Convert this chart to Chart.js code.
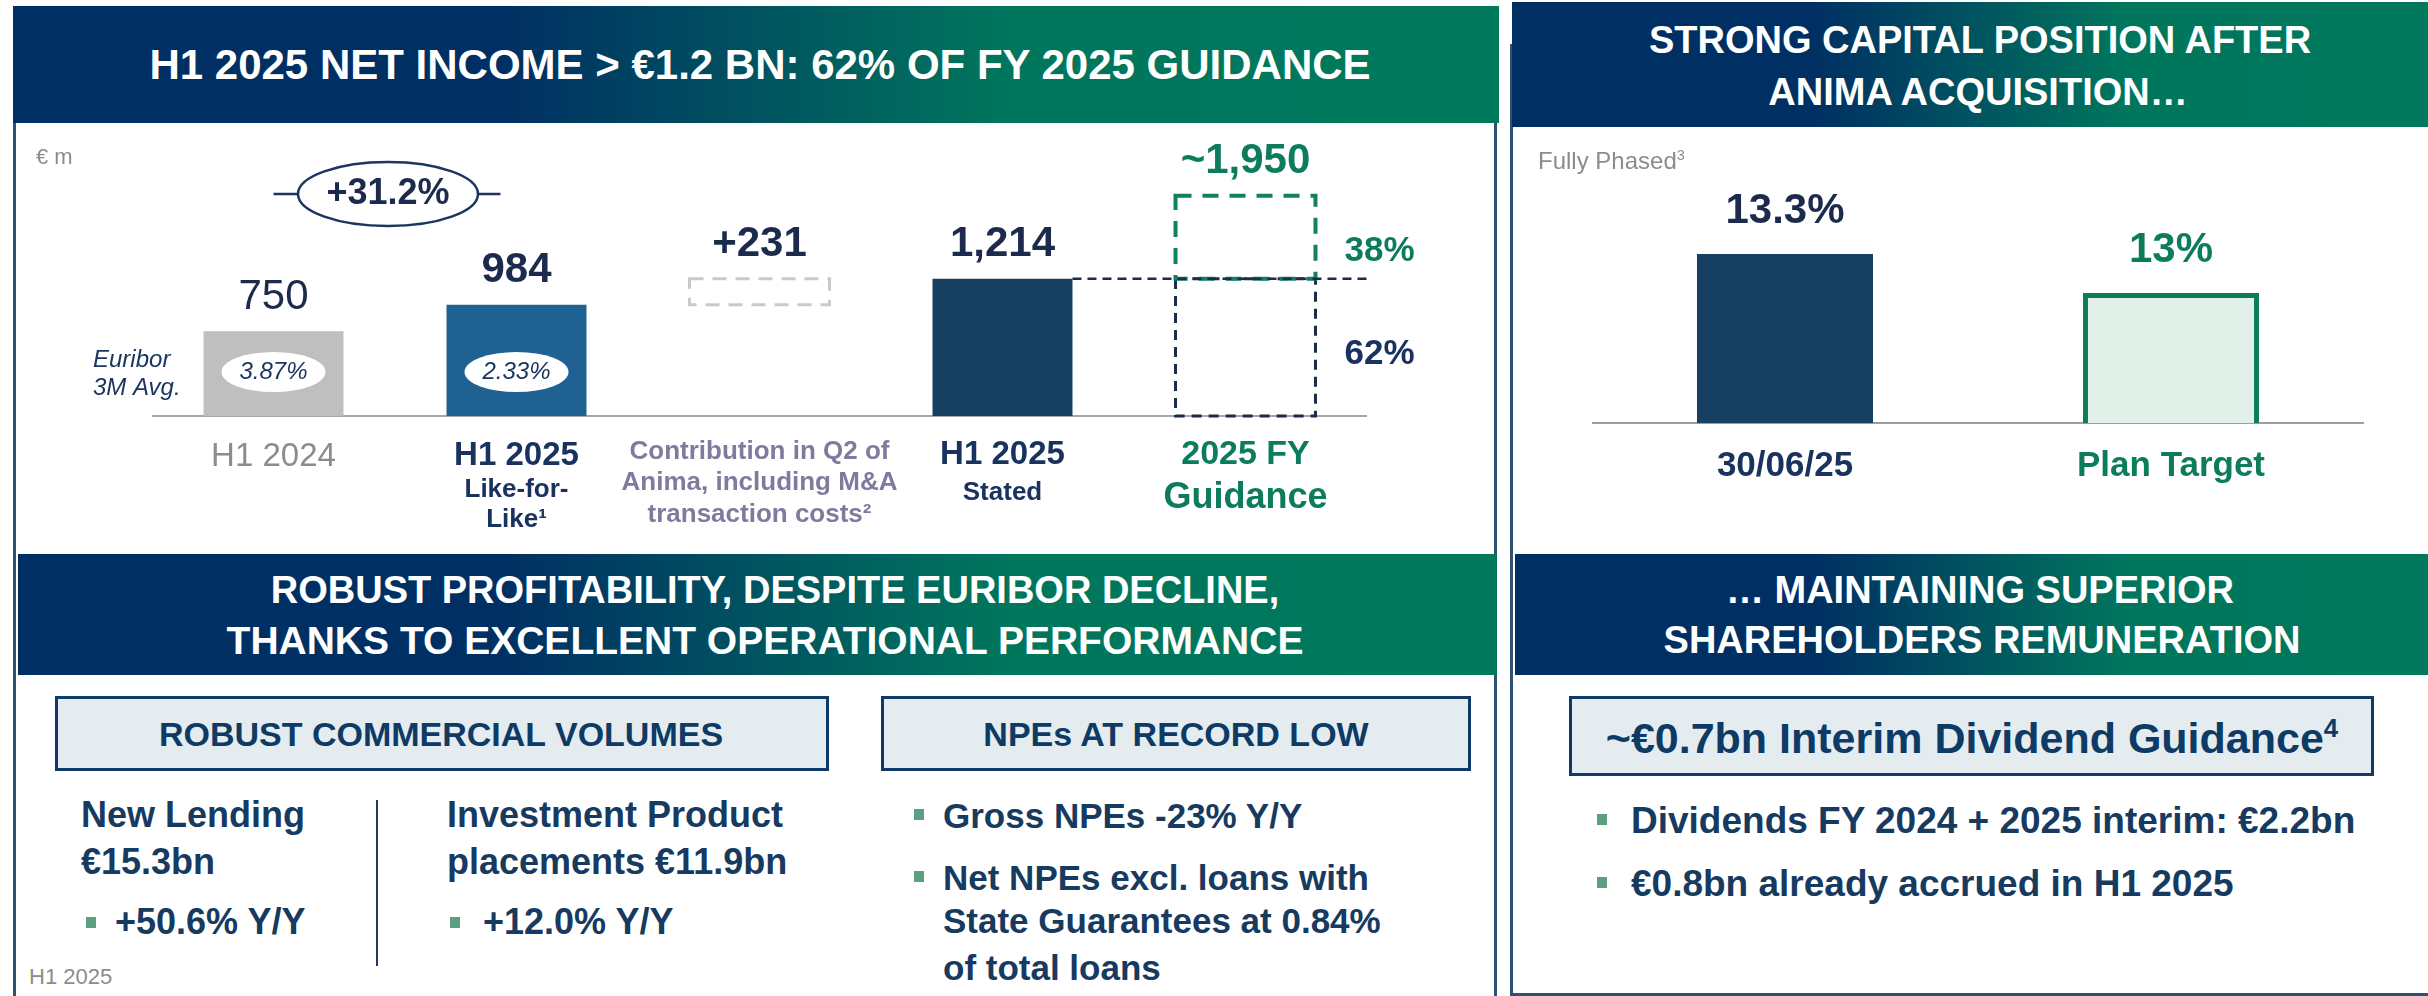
<!DOCTYPE html>
<html><head><meta charset="utf-8">
<script src="https://cdn.jsdelivr.net/npm/chart.js@4.4.1/dist/chart.umd.min.js"></script>
<style>
html,body{margin:0;padding:0;}
body{width:2428px;height:996px;position:relative;overflow:hidden;background:#fff;font-family:'Liberation Sans',Arial,sans-serif;}
.hdr{position:absolute;background:linear-gradient(90deg,#003063 0%,#003063 33%,#00765D 67%,#00795C 100%);}
.box{position:absolute;box-sizing:border-box;border:3px solid #0E3B69;background:#E4ECEF;}
.ln{position:absolute;background:#2F5273;}
.t{position:absolute;white-space:nowrap;line-height:1;}
.sq{position:absolute;width:10px;height:11px;background:#5B9E80;}
sup{font-size:0.6em;line-height:0;vertical-align:0.6em;}
canvas{position:absolute;}
</style></head><body>
<div class="ln" style="left:13px;top:44px;width:3px;height:952px"></div>
<div class="ln" style="left:1494px;top:44px;width:3px;height:952px"></div>
<div class="ln" style="left:1510px;top:44px;width:3px;height:952px"></div>
<div class="ln" style="left:1510px;top:993px;width:918px;height:3px"></div>
<div class="hdr" style="left:13px;top:6px;width:1486px;height:117px"></div>
<div class="hdr" style="left:1512px;top:2px;width:916px;height:125px"></div>
<div class="hdr" style="left:18px;top:554px;width:1479px;height:121px"></div>
<div class="hdr" style="left:1515px;top:554px;width:913px;height:121px"></div>
<div class="box" style="left:55px;top:696px;width:774px;height:75px"></div>
<div class="box" style="left:881px;top:696px;width:590px;height:75px"></div>
<div class="box" style="left:1569px;top:696px;width:805px;height:80px"></div>
<div class="ln" style="left:376px;top:800px;width:2px;height:166px;background:#1B3A5E"></div>
<div class="sq" style="left:86px;top:917px"></div>
<div class="sq" style="left:450px;top:917px"></div>
<div class="sq" style="left:914px;top:809px"></div>
<div class="sq" style="left:914px;top:871px"></div>
<div class="sq" style="left:1597px;top:814px"></div>
<div class="sq" style="left:1597px;top:877px"></div>
<canvas id="c1" width="1496" height="420" style="left:0;top:130px;width:1496px;height:420px"></canvas>
<canvas id="c2" width="916" height="420" style="left:1512px;top:130px;width:916px;height:420px"></canvas>
<script>
// ---------- DATA ----------
const categories = ['H1 2024', 'H1 2025 Like-for-Like', 'Contribution in Q2 of Anima', 'H1 2025 Stated', '2025 FY Guidance'];
const categoryLines = [['H1 2024'], ['H1 2025', 'Like-for-', 'Like\u00B9'], ['Contribution in Q2 of', 'Anima, including M&A', 'transaction costs\u00B2'], ['H1 2025', 'Stated'], ['2025 FY', 'Guidance']];
const netIncome = [750, 984, null, 1214, null];
const animaContribution = [null, null, 231, null, null];
const fyGuidance = [null, null, null, null, 1950];
const valueLabels = ['750', '984', '+231', '1,214', '~1,950'];
const euriborAvg = ['3.87%', '2.33%', null, null, null];
const guidanceShare = ['62%', '38%'];
const growthLabel = '+31.2%';

const capitalCategories = ['30/06/25', 'Plan Target'];
const cet1Ratio = [13.3, 13];
const cet1Labels = ['13.3%', '13%'];

// ---------- HTML TEXT ----------
function T(html, x, y, size, o) {
  o = o || {};
  const d = document.createElement('div');
  d.className = 't';
  d.innerHTML = html;
  d.style.fontSize = size + 'px';
  d.style.left = x + 'px';
  d.style.top = y + 'px';
  const a = o.align || 'center';
  d.style.transform = a === 'center' ? 'translate(-50%,-50%)' : (a === 'left' ? 'translate(0,-50%)' : 'translate(-100%,-50%)');
  d.style.fontWeight = o.weight || 'bold';
  d.style.color = o.color || '#fff';
  if (o.italic) d.style.fontStyle = 'italic';
  document.body.appendChild(d);
}
const NAVY = '#173A60', GRAY = '#8C8C8C', BOXC = '#0E3A66';
T('H1 2025 NET INCOME &gt; €1.2 BN: 62% OF FY 2025 GUIDANCE', 760, 65, 42);
T('STRONG CAPITAL POSITION AFTER', 1980, 40, 38);
T('ANIMA ACQUISITION…', 1978, 92, 38);
T('ROBUST PROFITABILITY, DESPITE EURIBOR DECLINE,', 775, 590, 38);
T('THANKS TO EXCELLENT OPERATIONAL PERFORMANCE', 765, 640, 39);
T('… MAINTAINING SUPERIOR', 1980, 590, 38);
T('SHAREHOLDERS REMUNERATION', 1982, 640, 38);
T('ROBUST COMMERCIAL VOLUMES', 441, 734, 34, {color: BOXC});
T('NPEs AT RECORD LOW', 1176, 734, 34, {color: BOXC});
T('~€0.7bn Interim Dividend Guidance<sup>4</sup>', 1972, 738, 43, {color: BOXC});
T('€ m', 36, 157, 22, {align: 'left', weight: 'normal', color: GRAY});
T('Fully Phased<sup>3</sup>', 1538, 161, 24, {align: 'left', weight: 'normal', color: GRAY});
T('New Lending', 81, 815, 36, {align: 'left', color: NAVY});
T('€15.3bn', 81, 862, 36, {align: 'left', color: NAVY});
T('+50.6% Y/Y', 115, 922, 36, {align: 'left', color: NAVY});
T('Investment Product', 447, 815, 36, {align: 'left', color: NAVY});
T('placements €11.9bn', 447, 862, 36, {align: 'left', color: NAVY});
T('+12.0% Y/Y', 483, 922, 36, {align: 'left', color: NAVY});
T('H1 2025', 29, 977, 22, {align: 'left', weight: 'normal', color: GRAY});
T('Gross NPEs -23% Y/Y', 943, 815, 35, {align: 'left', color: NAVY});
T('Net NPEs excl. loans with', 943, 877, 35, {align: 'left', color: NAVY});
T('State Guarantees at 0.84%', 943, 920, 35, {align: 'left', color: NAVY});
T('of total loans', 943, 967, 35, {align: 'left', color: NAVY});
T('Dividends FY 2024 + 2025 interim: €2.2bn', 1631, 820, 37, {align: 'left', color: NAVY});
T('€0.8bn already accrued in H1 2025', 1631, 883, 37, {align: 'left', color: NAVY});

// ---------- CHART 1 ----------
const FONT = "'Liberation Sans', Arial, sans-serif";
const NUMC = '#1C2A4D', GREEN = '#0C7C5C';
const statedBars = netIncome.map(v => v == null ? null : [0, v]);
const animaBars = animaContribution.map(v => v == null ? null : [netIncome[1], netIncome[1] + v]);
const fyLower = fyGuidance.map(v => v == null ? null : [0, netIncome[3]]);
const fyUpper = fyGuidance.map(v => v == null ? null : [netIncome[3], v]);

function txt(ctx, s, x, y, font, color, align) {
  ctx.save();
  ctx.font = font; ctx.fillStyle = color; ctx.textAlign = align || 'center'; ctx.textBaseline = 'middle';
  ctx.fillText(s, x, y);
  ctx.restore();
}

const deco1 = {
  id: 'deco1',
  beforeDatasetsDraw(chart) {
    const ctx = chart.ctx, a = chart.chartArea, y0 = chart.scales.y.getPixelForValue(0);
    ctx.save(); ctx.strokeStyle = '#A6A6A6'; ctx.lineWidth = 2;
    ctx.beginPath(); ctx.moveTo(a.left, y0); ctx.lineTo(a.right, y0); ctx.stroke(); ctx.restore();
  },
  afterDatasetsDraw(chart) {
    const ctx = chart.ctx, ys = chart.scales.y, xs = chart.scales.x, a = chart.chartArea;
    chart.data.datasets.forEach((ds, di) => {
      if (!ds.dashed) return;
      const meta = chart.getDatasetMeta(di);
      meta.data.forEach((el, i) => {
        if (ds.data[i] == null) return;
        const p = el.getProps(['x', 'y', 'base', 'width'], true);
        ctx.save(); ctx.strokeStyle = ds.dashed.color; ctx.lineWidth = ds.dashed.width; ctx.setLineDash(ds.dashed.dash);
        ctx.strokeRect(p.x - p.width / 2, p.y, p.width, p.base - p.y); ctx.restore();
      });
    });
    const solid = chart.getDatasetMeta(0).data;
    const fyEl = chart.getDatasetMeta(2).data[4].getProps(['x', 'width'], true);
    const stEl = solid[3].getProps(['x', 'width'], true);
    const yS = ys.getPixelForValue(netIncome[3]);
    ctx.save(); ctx.strokeStyle = '#1C2B4C'; ctx.lineWidth = 2.5; ctx.setLineDash([9, 6]);
    ctx.beginPath(); ctx.moveTo(stEl.x + stEl.width / 2, yS); ctx.lineTo(fyEl.x + fyEl.width / 2 + 54, yS); ctx.stroke(); ctx.restore();
    const tops = categories.map((c, i) => netIncome[i] != null ? netIncome[i] : (animaContribution[i] != null ? netIncome[1] + animaContribution[i] : fyGuidance[i]));
    valueLabels.forEach((s, i) => {
      const x = xs.getPixelForValue(i), y = ys.getPixelForValue(tops[i]) - 34;
      const f = (i === 0 ? 'normal ' : 'bold ') + '42px ' + FONT;
      txt(ctx, s, x, y, f, i === 4 ? GREEN : NUMC);
    });
    const y0 = ys.getPixelForValue(0);
    const st = [
      [[41, 'normal 33px', GRAY]],
      [[40, 'bold 33px', '#1A3260'], [74, 'bold 26px', '#1A3260'], [104, 'bold 26px', '#1A3260']],
      [[36, 'bold 26px', '#7E7B9E'], [67, 'bold 26px', '#7E7B9E'], [99, 'bold 26px', '#7E7B9E']],
      [[39, 'bold 33px', '#1A3260'], [77, 'bold 26px', '#1A3260']],
      [[39, 'bold 34px', GREEN], [82, 'bold 36px', GREEN]]
    ];
    categoryLines.forEach((lines, i) => {
      const x = xs.getPixelForValue(i);
      lines.forEach((s, k) => txt(ctx, s, x, y0 + st[i][k][0], st[i][k][1] + ' ' + FONT, st[i][k][2]));
    });
    txt(ctx, 'Euribor', a.left - 59, y0 - 56, 'italic 24px ' + FONT, '#1C3660', 'left');
    txt(ctx, '3M Avg.', a.left - 59, y0 - 28, 'italic 24px ' + FONT, '#1C3660', 'left');
    euriborAvg.forEach((s, i) => {
      if (s == null) return;
      const x = xs.getPixelForValue(i), y = y0 - 44;
      ctx.save(); ctx.fillStyle = '#fff'; ctx.beginPath(); ctx.ellipse(x, y, 52, 20, 0, 0, Math.PI * 2); ctx.fill(); ctx.restore();
      txt(ctx, s, x, y, 'italic 24px ' + FONT, '#1C3660');
    });
    const x0 = xs.getPixelForValue(0), x1 = xs.getPixelForValue(1);
    const cx = (x0 + x1) / 2 - 7, cy = a.top + 4;
    ctx.save(); ctx.strokeStyle = '#1C3660'; ctx.lineWidth = 2.5;
    ctx.beginPath(); ctx.ellipse(cx, cy, 90, 32, 0, 0, Math.PI * 2); ctx.stroke();
    ctx.beginPath(); ctx.moveTo(x0, cy); ctx.lineTo(cx - 90, cy); ctx.moveTo(cx + 90, cy); ctx.lineTo(x1 - 16, cy); ctx.stroke();
    ctx.restore();
    txt(ctx, growthLabel, cx, cy, 'bold 36px ' + FONT, NUMC);
    const xr = fyEl.x + fyEl.width / 2 + 64;
    txt(ctx, guidanceShare[0], xr, ys.getPixelForValue(netIncome[3] / 2) + 7, 'bold 35px ' + FONT, '#1A3260');
    txt(ctx, guidanceShare[1], xr, ys.getPixelForValue((netIncome[3] + fyGuidance[4]) / 2) + 14, 'bold 35px ' + FONT, GREEN);
  }
};

new Chart(document.getElementById('c1'), {
  type: 'bar',
  data: {
    labels: categories,
    datasets: [
      {data: statedBars, backgroundColor: ['#BFBFBF', '#1F6193', 'transparent', '#163F62', 'transparent'], grouped: false, barPercentage: 0.576, categoryPercentage: 1},
      {data: animaBars, backgroundColor: 'transparent', grouped: false, barPercentage: 0.576, categoryPercentage: 1, dashed: {color: '#C9C9C9', width: 3, dash: [14, 9]}},
      {data: fyLower, backgroundColor: 'transparent', grouped: false, barPercentage: 0.576, categoryPercentage: 1, dashed: {color: '#1C2B4C', width: 3, dash: [10, 7]}},
      {data: fyUpper, backgroundColor: 'transparent', grouped: false, barPercentage: 0.576, categoryPercentage: 1, dashed: {color: '#11805F', width: 4, dash: [16, 11]}}
    ]
  },
  options: {
    responsive: false, animation: false, devicePixelRatio: 1,
    layout: {padding: {left: 152, right: 129, top: 60, bottom: 134}},
    scales: {x: {display: false}, y: {display: false, min: 0, max: 2000}},
    plugins: {legend: {display: false}, tooltip: {enabled: false}}
  },
  plugins: [deco1]
});

// ---------- CHART 2 ----------
const deco2 = {
  id: 'deco2',
  beforeDatasetsDraw(chart) {
    const ctx = chart.ctx, a = chart.chartArea;
    ctx.save(); ctx.strokeStyle = '#9E9E9E'; ctx.lineWidth = 2;
    ctx.beginPath(); ctx.moveTo(a.left, a.bottom); ctx.lineTo(a.right, a.bottom); ctx.stroke(); ctx.restore();
  },
  afterDatasetsDraw(chart) {
    const ctx = chart.ctx, xs = chart.scales.x, ys = chart.scales.y, a = chart.chartArea;
    const cols = [NUMC, GREEN];
    cet1Labels.forEach((s, i) => txt(ctx, s, xs.getPixelForValue(i), ys.getPixelForValue(cet1Ratio[i]) - 43, 'bold 42px ' + FONT, cols[i]));
    const cc = ['#1A3260', GREEN];
    capitalCategories.forEach((s, i) => txt(ctx, s, xs.getPixelForValue(i), a.bottom + 43, 'bold 35px ' + FONT, cc[i]));
  }
};
new Chart(document.getElementById('c2'), {
  type: 'bar',
  data: {
    labels: capitalCategories,
    datasets: [{data: cet1Ratio, backgroundColor: ['#163F62', '#E2F0EA'], borderColor: ['#163F62', '#0C7C5C'], borderWidth: [0, 5], borderSkipped: false, barPercentage: 0.456, categoryPercentage: 1}]
  },
  options: {
    responsive: false, animation: false, devicePixelRatio: 1,
    layout: {padding: {left: 80, right: 64, top: 33, bottom: 127}},
    scales: {x: {display: false}, y: {display: false, min: 12, max: 14}},
    plugins: {legend: {display: false}, tooltip: {enabled: false}}
  },
  plugins: [deco2]
});
</script>
</body></html>
